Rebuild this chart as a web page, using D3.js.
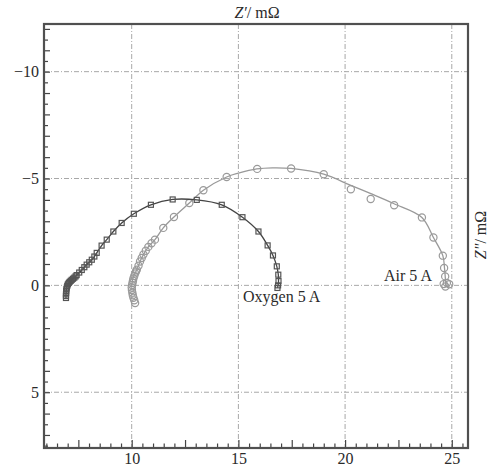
<!DOCTYPE html>
<html>
<head>
<meta charset="utf-8">
<script src="https://cdn.jsdelivr.net/npm/d3@7"></script>
<style>
  html, body { margin: 0; padding: 0; background: #fff; }
  svg { display: block; }
  text { font-family: "Liberation Serif", "DejaVu Serif", serif; fill: #2a2a2a; }
</style>
</head>
<body>
<svg id="chart" width="490" height="470"></svg>
<script>
// Nyquist data: real part Z' and imaginary part Z'' (mΩ)
const oxygenRe = [6.92, 6.92, 6.92, 6.93, 6.93, 6.94, 6.96, 6.98, 7.01, 7.05, 7.09, 7.14, 7.19, 7.25, 7.31, 7.37, 7.42, 7.54, 7.66, 7.78, 7.89, 8.01, 8.13, 8.25, 8.36, 8.59, 8.83, 9.14, 9.53, 10.1, 10.9, 11.92, 13.05, 14.22, 15.19, 15.94, 16.37, 16.62, 16.8, 16.87, 16.88, 16.86, 16.83];
const oxygenIm = [0.59, 0.5, 0.42, 0.34, 0.26, 0.18, 0.1, 0.02, -0.05, -0.11, -0.16, -0.21, -0.26, -0.31, -0.36, -0.42, -0.48, -0.6, -0.72, -0.85, -0.97, -1.08, -1.2, -1.35, -1.52, -1.86, -2.14, -2.52, -2.92, -3.35, -3.77, -4.02, -4.0, -3.77, -3.19, -2.52, -1.87, -1.4, -0.89, -0.5, -0.2, 0.0, 0.12];

const airRe = [10.16, 10.12, 10.08, 10.05, 10.03, 10.01, 10.0, 10.02, 10.04, 10.06, 10.08, 10.12, 10.16, 10.2, 10.24, 10.32, 10.39, 10.47, 10.55, 10.66, 10.78, 10.93, 11.09, 11.48, 11.98, 12.7, 13.36, 14.45, 15.88, 17.47, 19.0, 20.27, 21.2, 22.3, 23.6, 24.14, 24.58, 24.64, 24.69, 24.77, 24.88, 24.7, 24.62];
const airIm = [0.83, 0.7, 0.58, 0.46, 0.34, 0.22, 0.1, -0.02, -0.12, -0.22, -0.32, -0.44, -0.56, -0.65, -0.73, -0.92, -1.12, -1.28, -1.44, -1.62, -1.8, -1.97, -2.14, -2.69, -3.2, -3.85, -4.45, -5.07, -5.45, -5.47, -5.2, -4.5, -4.04, -3.75, -3.18, -2.24, -1.39, -0.81, -0.42, -0.11, -0.05, 0.05, -0.06];

// Fitted curve through the air spectrum
const airFitRe = [10.0, 10.08, 10.24, 10.39, 10.55, 10.78, 11.09, 11.48, 11.98, 12.7, 13.36, 14.45, 15.0, 15.86, 16.6, 17.47, 19.0, 20.24, 21.18, 22.27, 23.6, 24.14, 24.58, 24.66, 24.72];
const airFitIm = [0.0, -0.42, -0.73, -1.12, -1.44, -1.8, -2.14, -2.69, -3.2, -3.85, -4.45, -5.07, -5.25, -5.45, -5.5, -5.47, -5.2, -4.69, -4.3, -3.83, -3.18, -2.24, -1.39, -0.8, 0.0];

const xTicks = [10, 15, 20, 25];
const yTicks = [-10, -5, 0, 5];
const seriesLabels = ["Oxygen 5 A", "Air 5 A"];

const svg = d3.select("#chart");
const plotL = 44, plotR = 468, plotT = 24, plotB = 448;

const x = d3.scaleLinear().domain([5.89, 25.76]).range([plotL, plotR]);
const y = d3.scaleLinear().domain([-12.23, 7.61]).range([plotT, plotB]);

// Grid
const grid = svg.append("g").attr("stroke", "#a8a8a8").attr("stroke-width", 1)
  .attr("stroke-dasharray", "5,2,1,2");
grid.selectAll("line.gx").data(xTicks).join("line").attr("class", "gx")
  .attr("x1", d => x(d)).attr("x2", d => x(d)).attr("y1", plotT).attr("y2", plotB);
grid.selectAll("line.gy").data(yTicks).join("line").attr("class", "gy")
  .attr("y1", d => y(d)).attr("y2", d => y(d)).attr("x1", plotL).attr("x2", plotR);

// Axes with inward minor ticks
const xMinor = d3.range(6, 25.76, 0.5);
const gx = svg.append("g").attr("transform", `translate(0,${plotB})`)
  .call(d3.axisTop(x).tickValues(xMinor).tickFormat("").tickSizeInner(0).tickSizeOuter(0));
gx.select(".domain").remove();
gx.selectAll(".tick line").attr("stroke", "#444").attr("stroke-width", 1.2)
  .attr("y2", d => (Math.abs(d % 2.5) < 1e-6 ? -8 : -4.5));

svg.append("g").attr("transform", `translate(0,${plotB + 5})`)
  .call(d3.axisBottom(x).tickValues(xTicks).tickSize(0).tickPadding(0))
  .call(g => g.select(".domain").remove())
  .selectAll("text").attr("font-size", 16).attr("fill", "#2a2a2a")
  .attr("font-family", "Liberation Serif, serif");

const yMinor = d3.range(-12, 7.61, 0.5);
const gy = svg.append("g").attr("transform", `translate(${plotL},0)`)
  .call(d3.axisRight(y).tickValues(yMinor).tickFormat("").tickSizeInner(0).tickSizeOuter(0));
gy.select(".domain").remove();
gy.selectAll(".tick line").attr("stroke", "#444").attr("stroke-width", 1.2)
  .attr("x2", d => (Math.abs(d % 1) < 1e-6 ? 6 : 4));

svg.append("g").attr("transform", `translate(${plotL - 5},0)`)
  .call(d3.axisLeft(y).tickValues(yTicks).tickSize(0).tickPadding(0)
    .tickFormat(d => d < 0 ? "\u2212" + Math.abs(d) : d))
  .call(g => g.select(".domain").remove())
  .selectAll("text").attr("font-size", 16).attr("fill", "#2a2a2a")
  .attr("font-family", "Liberation Serif, serif");

// Frame
svg.append("rect").attr("x", plotL).attr("y", plotT)
  .attr("width", plotR - plotL).attr("height", plotB - plotT)
  .attr("fill", "none").attr("stroke", "#505050").attr("stroke-width", 2.2);

// Air: fitted line and open circles
const airFit = airFitRe.map((d, i) => [d, airFitIm[i]]);
svg.append("path").datum(airFit)
  .attr("d", d3.line().x(d => x(d[0])).y(d => y(d[1])).curve(d3.curveCatmullRom))
  .attr("fill", "none").attr("stroke", "#999").attr("stroke-width", 1.3);

const air = airRe.map((d, i) => [d, airIm[i]]);
svg.append("g").selectAll("circle").data(air).join("circle")
  .attr("cx", d => x(d[0])).attr("cy", d => y(d[1])).attr("r", 3.6)
  .attr("fill", "none").attr("stroke", "#9a9a9a").attr("stroke-width", 1.2);

// Oxygen: line and squares
const oxy = oxygenRe.map((d, i) => [d, oxygenIm[i]]);
svg.append("path").datum(oxy)
  .attr("d", d3.line().x(d => x(d[0])).y(d => y(d[1])).curve(d3.curveCatmullRom))
  .attr("fill", "none").attr("stroke", "#444").attr("stroke-width", 1.3);
svg.append("g").selectAll("rect").data(oxy).join("rect")
  .attr("x", d => x(d[0]) - 2.5).attr("y", d => y(d[1]) - 2.5)
  .attr("width", 5).attr("height", 5)
  .attr("fill", "none").attr("stroke", "#555").attr("stroke-width", 1.2);

// Series labels
svg.append("text").attr("x", 243).attr("y", 302).attr("font-size", 16)
  .text(seriesLabels[0]);
svg.append("text").attr("x", 384).attr("y", 281).attr("font-size", 16)
  .text(seriesLabels[1]);

// Axis titles
const xt = svg.append("text").attr("x", 257).attr("y", 18).attr("text-anchor", "middle")
  .attr("font-size", 16);
xt.append("tspan").attr("font-style", "italic").text("Z\u2032");
xt.append("tspan").text("/ m\u03A9");

const yt = svg.append("text").attr("transform", "translate(486,235) rotate(-90)")
  .attr("text-anchor", "middle").attr("font-size", 16);
yt.append("tspan").attr("font-style", "italic").text("Z\u2033");
yt.append("tspan").text("/ m\u03A9");
</script>
</body>
</html>
